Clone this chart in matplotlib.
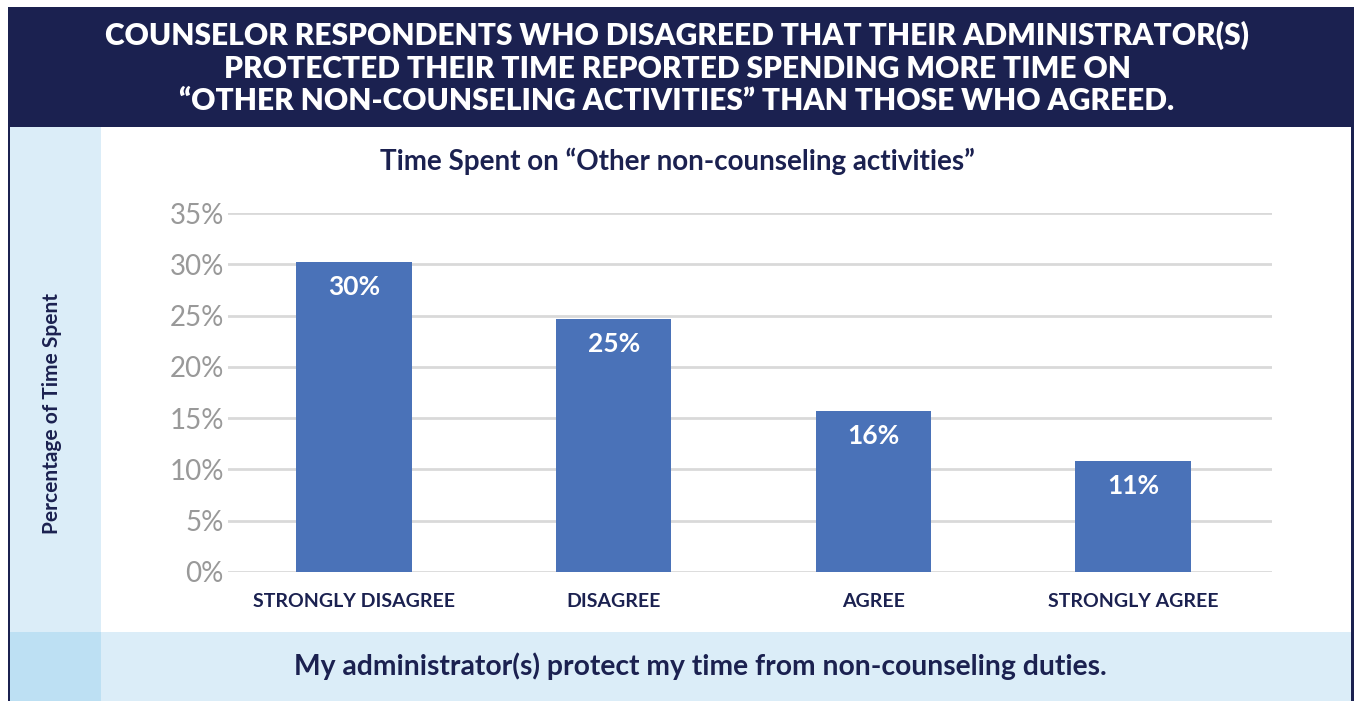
import matplotlib
matplotlib.use("Agg")
import matplotlib.pyplot as plt
from matplotlib.patches import Rectangle

# Survey responses and share of time spent on other non-counseling activities
categories = ["STRONGLY DISAGREE", "DISAGREE", "AGREE", "STRONGLY AGREE"]
time_share = [30.2, 24.7, 15.7, 10.8]
y_ticks = [0, 5, 10, 15, 20, 25, 30, 35]

headline = ("COUNSELOR RESPONDENTS WHO DISAGREED THAT THEIR ADMINISTRATOR(S)\n"
            "PROTECTED THEIR TIME REPORTED SPENDING MORE TIME ON\n"
            "\u201cOTHER NON-COUNSELING ACTIVITIES\u201d THAN THOSE WHO AGREED.")
chart_title = "Time Spent on \u201cOther non-counseling activities\u201d"
y_label = "Percentage of Time Spent"
x_caption = "My administrator(s) protect my time from non-counseling duties."

NAVY = "#1b2150"
LIGHT = "#dbedf8"
MID = "#bde0f3"
BAR = "#4a72b8"
GRID = "#d9d9d9"
TICK = "#999999"
FONT = ["Lato", "DejaVu Sans"]

W, H = 1354, 701
fig = plt.figure(figsize=(W / 100, H / 100), dpi=100)
fig.patch.set_facecolor("white")


def px_rect(x0, y0, x1, y1, color):
    """Rectangle given in pixel coordinates measured from the top-left."""
    fig.add_artist(Rectangle((x0 / W, 1 - y1 / H), (x1 - x0) / W, (y1 - y0) / H,
                             transform=fig.transFigure, facecolor=color,
                             edgecolor="none", zorder=0))


# Frame: header, side panel, caption band and borders
px_rect(8, 7, 1354, 127, NAVY)
px_rect(10, 127, 101, 632, LIGHT)
px_rect(101, 632, 1351, 701, LIGHT)
px_rect(10, 632, 101, 701, MID)
px_rect(8, 127, 10, 701, NAVY)
px_rect(1351, 127, 1354, 701, NAVY)

fig.text(677 / W, 1 - 68 / H, headline, ha="center", va="center", color="white",
         fontsize=21.5, fontweight="heavy", family=FONT, linespacing=1.2)
fig.text(677 / W, 1 - 161 / H, chart_title, ha="center", va="center", color=NAVY,
         fontsize=20, fontweight="bold", family=FONT)
fig.text(52 / W, 1 - 413 / H, y_label, ha="center", va="center", color=NAVY,
         fontsize=15, fontweight="bold", family=FONT, rotation=90)
fig.text(700 / W, 1 - 666 / H, x_caption, ha="center", va="center", color=NAVY,
         fontsize=20.3, fontweight="bold", family=FONT)

# Bar chart
ax = fig.add_axes([228 / W, 1 - 572 / H, (1272 - 228) / W, (572 - 213) / H])
ax.set_facecolor("none")
x = range(len(categories))
bars = ax.bar(x, time_share, width=0.445, color=BAR, zorder=3)
ax.set_xlim(-0.485, 3.535)
ax.set_ylim(0, 35)
ax.set_yticks(y_ticks)
ax.set_yticklabels([f"{t}%" for t in y_ticks], color=TICK, fontsize=20,
                   family=FONT)
ax.set_xticks(list(x))
ax.set_xticklabels(categories, color=NAVY, fontsize=14, fontweight="bold",
                   family=FONT)
ax.tick_params(axis="both", length=0)
ax.tick_params(axis="y", pad=3)
ax.tick_params(axis="x", pad=15)
ax.grid(axis="y", color=GRID, linewidth=2, zorder=0)
for s in ax.spines.values():
    s.set_visible(False)

for rect, v in zip(bars, time_share):
    ax.annotate(f"{v:.0f}%", (rect.get_x() + rect.get_width() / 2, v),
                xytext=(0, -25), textcoords="offset pixels",
                ha="center", va="center", color="white", fontsize=19,
                fontweight="bold", family=FONT, zorder=4)

fig.savefig("out.png", dpi=100)
